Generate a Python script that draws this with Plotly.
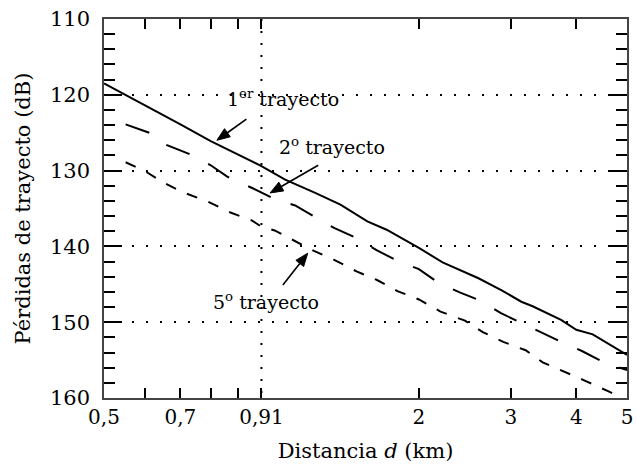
import numpy as np
import plotly.graph_objects as go

# Distancia d (km) y pérdidas de trayecto (dB)
x_tray1 = [0.5, 0.6, 0.7, 0.8, 0.9, 1.0, 1.11, 1.175, 1.264, 1.416,
           1.594, 1.735, 2.0, 2.22, 2.45, 2.6, 2.88, 3.14, 3.3, 3.74, 4.0, 4.3, 5.0]
y_tray1 = [118.5, 121.4, 123.9, 126.1, 127.9, 129.4, 131.2, 131.9, 132.9, 134.5,
           136.7, 137.8, 140.2, 142.1, 143.4, 144.2, 145.8, 147.3, 147.9, 149.7, 151.0, 151.6, 154.3]

x_tray2 = [0.55, 0.61, 0.658, 0.727, 0.8, 0.86, 0.96, 1.05, 1.16, 1.28, 1.38, 1.52,
           1.66, 1.82, 2.0, 2.18, 2.4, 2.63, 2.87, 3.14, 3.43, 3.77, 4.1, 4.55, 5.0]
y_tray2 = [123.9, 125.0, 126.6, 127.8, 129.3, 130.8, 132.3, 133.6, 134.6, 136.3, 137.6, 138.9,
           140.5, 141.9, 143.0, 144.8, 146.1, 147.2, 148.8, 150.1, 151.4, 152.7, 153.8, 155.4, 156.3]

x_tray5 = [0.55, 0.6, 0.65, 0.71, 0.79, 0.87, 0.96, 1.0, 1.06, 1.17, 1.26, 1.38, 1.52,
           1.66, 1.82, 2.0, 2.2, 2.45, 2.65, 2.9, 3.2, 3.45, 3.8, 4.15, 4.6, 4.8]
y_tray5 = [128.9, 130.1, 131.6, 132.9, 134.1, 135.5, 136.6, 137.4, 137.9, 139.5, 140.6, 141.8, 143.3,
           144.4, 145.9, 147.0, 148.6, 149.8, 151.3, 152.6, 153.7, 155.3, 156.5, 157.7, 159.1, 159.7]

x_tickvals = [0.5, 0.7, 1.0, 2, 3, 4, 5]
x_ticktext = ["0,5", "0,7", "0,91", "2", "3", "4", "5"]
x_minor = [0.6, 0.8, 0.9]
y_tickvals = [110, 120, 130, 140, 150, 160]
x_ref_line = 1.0

X_MIN, X_MAX = 0.5, 5.0
Y_TOP, Y_BOT = 110, 160

# labels: (text, x, y)
labels = [
    ("1<sup>er</sup> trayecto", 1.099, 120.4),
    ("2<sup>o</sup> trayecto", 1.366, 126.7),
    ("5<sup>o</sup> trayecto", 1.021, 147.2),
]
# arrows: (tail_x, tail_y, head_x, head_y) in data units
arrows = [
    (0.936, 123.2, 0.822, 126.0),
    (1.284, 129.3, 1.039, 132.95),
    (1.099, 145.1, 1.226, 140.9),
]

FONT = "DejaVu Serif"
W, H = 637, 472
ML, MR, MT, MB = 104, 4, 19, 74
PW, PH = W - ML - MR, H - MT - MB


def to_px(x, y):
    fx = (np.log10(x) - np.log10(X_MIN)) / (np.log10(X_MAX) - np.log10(X_MIN))
    fy = (y - Y_TOP) / (Y_BOT - Y_TOP)
    return fx * PW, fy * PH  # pixel offsets inside plot (y downward)


def to_paper(px, py):
    return px / PW, 1 - py / PH


fig = go.Figure()
fig.add_trace(go.Scatter(x=[x_ref_line, x_ref_line], y=[Y_TOP, Y_BOT], mode="lines",
                         line=dict(color="black", width=2, dash="2px,10px"), hoverinfo="skip"))
fig.add_trace(go.Scatter(x=x_tray1, y=y_tray1, mode="lines",
                         line=dict(color="black", width=2)))
fig.add_trace(go.Scatter(x=x_tray2, y=y_tray2, mode="lines",
                         line=dict(color="black", width=2, dash="25px,21px")))
fig.add_trace(go.Scatter(x=x_tray5, y=y_tray5, mode="lines",
                         line=dict(color="black", width=2, dash="11px,12px")))

for txt, tx, ty in labels:
    fig.add_annotation(x=np.log10(tx), y=ty, text=txt, showarrow=False,
                       font=dict(family=FONT, size=19, color="black"))

HEAD_L, HEAD_W = 13, 5
for tx, ty, hx, hy in arrows:
    tpx, tpy = to_px(tx, ty)
    hpx, hpy = to_px(hx, hy)
    d = np.array([hpx - tpx, hpy - tpy])
    u = d / np.linalg.norm(d)
    n = np.array([-u[1], u[0]])
    base = np.array([hpx, hpy]) - HEAD_L * u
    p1 = base + HEAD_W * n
    p2 = base - HEAD_W * n
    a = to_paper(tpx, tpy)
    b = to_paper(*base)
    fig.add_shape(type="line", xref="paper", yref="paper", x0=a[0], y0=a[1], x1=b[0], y1=b[1],
                  line=dict(color="black", width=1.6))
    h0 = to_paper(hpx, hpy)
    q1 = to_paper(*p1)
    q2 = to_paper(*p2)
    fig.add_shape(type="path", xref="paper", yref="paper",
                  path=f"M {h0[0]} {h0[1]} L {q1[0]} {q1[1]} L {q2[0]} {q2[1]} Z",
                  fillcolor="black", line=dict(color="black", width=1))

fig.update_layout(
    width=W, height=H,
    margin=dict(l=ML, r=MR, t=MT, b=MB),
    plot_bgcolor="white", paper_bgcolor="white",
    showlegend=False,
    font=dict(family=FONT, color="black"),
)
fig.update_xaxes(
    type="log", range=[np.log10(X_MIN), np.log10(X_MAX)],
    tickvals=x_tickvals, ticktext=x_ticktext,
    tickfont=dict(family=FONT, size=20, color="black"),
    ticklabeloverflow="allow",
    ticks="inside", ticklen=10, tickwidth=2, tickcolor="black",
    minor=dict(tickvals=x_minor, ticks="inside", ticklen=10, tickwidth=2, tickcolor="black", showgrid=False),
    showgrid=False, zeroline=False,
    showline=True, linecolor="#444", linewidth=1.5, mirror="ticks",
    title=dict(text="Distancia <i>d</i> (km)", font=dict(family=FONT, size=21, color="black"), standoff=16),
)
fig.update_yaxes(
    range=[Y_BOT, Y_TOP],
    tickvals=y_tickvals,
    tickfont=dict(family=FONT, size=21, color="black"),
    ticks="inside", ticklen=18, tickwidth=2, tickcolor="black",
    minor=dict(dtick=2, ticks="inside", ticklen=11, tickwidth=2, tickcolor="black", showgrid=False),
    showgrid=True, gridcolor="black", gridwidth=2, griddash="2px,12px",
    zeroline=False,
    showline=True, linecolor="#444", linewidth=1.5, mirror="ticks",
    ticklabelstandoff=8,
    title=dict(text="Pérdidas de trayecto (dB)", font=dict(family=FONT, size=21, color="black"), standoff=14),
)

fig.write_html("out.html")
